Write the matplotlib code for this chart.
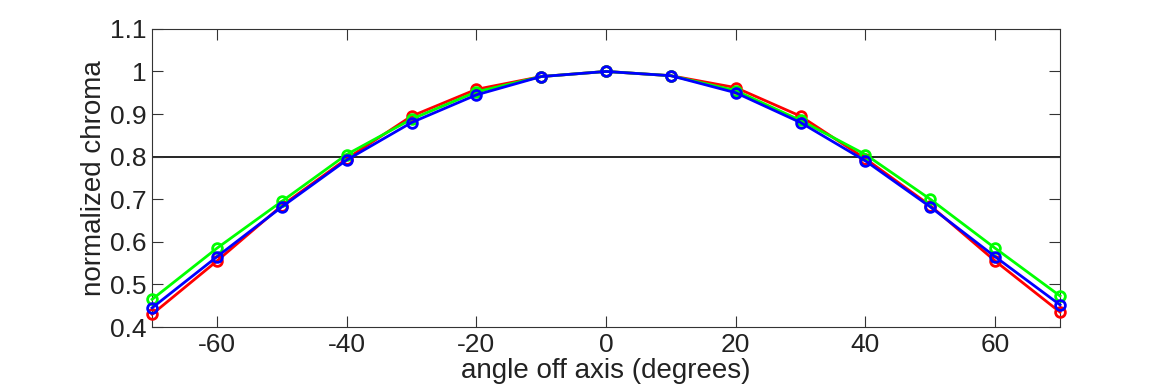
import matplotlib
matplotlib.use('Agg')
from matplotlib import pyplot as plt

angles = [-70, -60, -50, -40, -30, -20, -10, 0, 10, 20, 30, 40, 50, 60, 70]
red = [0.430, 0.555, 0.685, 0.795, 0.895, 0.958, 0.988, 1.0, 0.990, 0.962, 0.895, 0.795, 0.685, 0.555, 0.435]
green = [0.465, 0.585, 0.695, 0.805, 0.888, 0.952, 0.988, 1.0, 0.990, 0.955, 0.885, 0.805, 0.700, 0.585, 0.473]
blue = [0.445, 0.565, 0.682, 0.792, 0.880, 0.945, 0.988, 1.0, 0.990, 0.950, 0.880, 0.790, 0.682, 0.565, 0.452]
threshold = 0.8

plt.rcParams['font.family'] = ['Liberation Sans', 'DejaVu Sans']
plt.rcParams['axes.unicode_minus'] = False
fig = plt.figure(figsize=(11.7, 3.9), dpi=100)
ax = fig.add_axes([0.13, 0.1615, 0.776, 0.7645])

ax.axhline(threshold, color='black', lw=1.2, zorder=1)
for vals, c in [(red, '#ff0000'), (green, '#00ff00'), (blue, '#0000ff')]:
    ax.plot(angles, vals, color=c, lw=2, marker='o', ms=7, mfc='none', mew=2, zorder=3, clip_on=False)

ax.set_xlim(-70, 70)
ax.set_ylim(0.4, 1.1)
ax.set_xticks([-60, -40, -20, 0, 20, 40, 60])
ax.set_yticks([0.4, 0.5, 0.6, 0.7, 0.8, 0.9, 1.0, 1.1])
ax.set_yticklabels(['0.4', '0.5', '0.6', '0.7', '0.8', '0.9', '1', '1.1'])
ax.tick_params(direction='in', top=True, right=True, labelsize=19, length=8, color='#333333', labelcolor='#222222', pad=4)
for s in ax.spines.values():
    s.set_color('#333333')
ax.set_xlabel('angle off axis (degrees)', fontsize=20, color='#222222', labelpad=1)
ax.set_ylabel('normalized chroma', fontsize=20, color='#222222', labelpad=2)

fig.savefig('out.png', dpi=100)
